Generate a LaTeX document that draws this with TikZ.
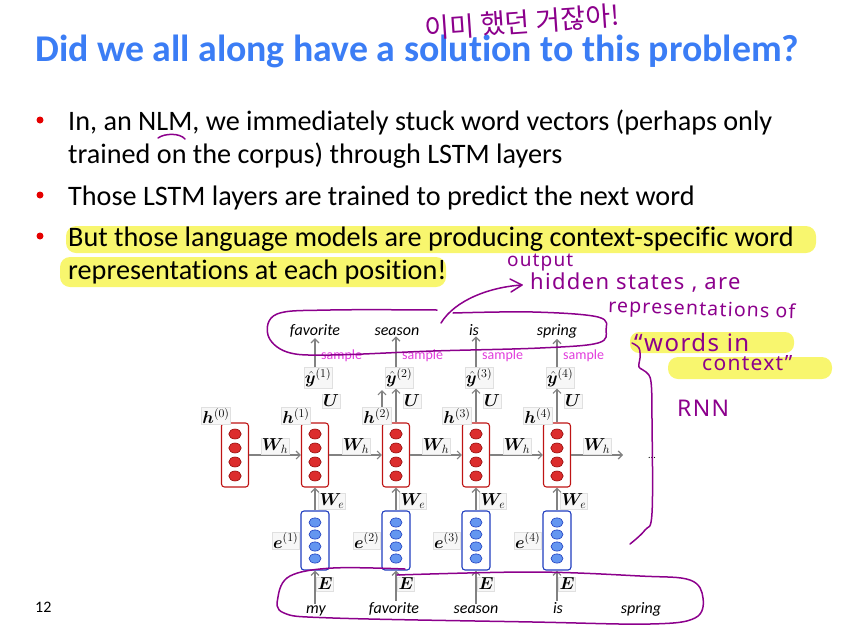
\documentclass[tikz,border=0pt]{standalone}
\usepackage{fontspec}
\setmainfont{Carlito}[Ligatures={NoCommon,NoRequired,NoContextual}]
\newfontfamily\kor{Noto Sans CJK KR}
\newfontfamily\hand{Noto Sans}[LetterSpace=6]
\usepackage{amsmath,bm}
\usetikzlibrary{arrows.meta,calc}
\definecolor{ttl}{RGB}{59,125,245}
\definecolor{pur}{RGB}{140,0,140}
\definecolor{hl}{RGB}{248,246,110}
\definecolor{mag}{RGB}{225,60,220}
\definecolor{rb}{RGB}{190,20,20}
\definecolor{rf}{RGB}{220,45,45}
\definecolor{bb}{RGB}{30,60,190}
\definecolor{bf}{RGB}{100,150,240}
\definecolor{ga}{RGB}{130,130,130}
\begin{document}
\begin{tikzpicture}[x=1pt,y=-1pt,
 rbox/.style={draw=rb, line width=1.1pt, rounded corners=3pt, minimum width=27pt, minimum height=64pt, inner sep=0pt},
 bbox/.style={draw=bb, line width=1.1pt, rounded corners=3pt, minimum width=28pt, minimum height=59pt, inner sep=0pt},
 lab/.style={draw=black!12, fill=black!3, inner sep=1pt, font=\fontsize{16.5}{18}\selectfont},
 garrow/.style={draw=ga, line width=1.2pt, -{Straight Barb[length=4pt,width=8pt]}},
 word/.style={font=\fontsize{16}{18}\selectfont\itshape, anchor=base, inner sep=1pt},
 smp/.style={font=\fontsize{14}{16}\selectfont, text=mag, anchor=base west, inner sep=0pt},
 pen/.style={draw=pur, line width=1.5pt, line cap=round, line join=round},
 htxt/.style={text=pur, inner sep=0pt, anchor=west, font=\hand\fontsize{21}{23}\selectfont},
 body/.style={anchor=base west, inner sep=0pt, font=\fontsize{28.2}{33}\selectfont},
 bdot/.style={fill=red!90!black, circle, inner sep=0pt, minimum size=7pt},
]
\useasboundingbox (0,0) rectangle (842,632);
% highlights
\fill[hl, rounded corners=10pt] (66,226) rectangle (816,253);
\fill[hl, rounded corners=10pt] (60,257) rectangle (446,287);
\fill[hl, rounded corners=9pt] (630,332) rectangle (794,353);
\fill[hl, rounded corners=10pt] (668,357) rectangle (832,379);
% title
\node[anchor=base west, inner sep=0pt, text=ttl, font=\bfseries\fontsize{37.8}{42}\selectfont] (title) at (35,61) {Did we all along have a solution to this problem?};
% bullets
\node[bdot] (d1) at (40,120) {};
\node[body] (l1) at (68,130) {In, an NLM, we immediately stuck word vectors (perhaps only};
\node[body] (l2) at (68,163) {trained on the corpus) through LSTM layers};
\node[bdot] (d2) at (40,195) {};
\node[body] (l3) at (68,205) {Those LSTM layers are trained to predict the next word};
\node[bdot] (d3) at (40,236) {};
\node[body] (l4) at (68,246) {But those language models are producing context-specific word};
\node[body] (l5) at (68,279) {representations at each position!};
\node[anchor=base west, inner sep=0pt, font=\fontsize{16}{18}\selectfont] (num) at (35,612) {12};
% hidden boxes
\foreach \i/\x in {0/235,1/315,2/396,3/476,4/557}{
  \node[rbox] (h\i) at (\x,455) {};
  \foreach \d in {-21,-7,7,21}
    \filldraw[fill=rf, draw=rb!80!black, line width=0.6pt] (\x,{455+\d}) ellipse [x radius=6.2pt, y radius=5pt];
  \node[lab] (hl\i) at ({\x-19},416) {$\bm{h}^{(\i)}$};
}
\foreach \i/\x in {1/315,2/396,3/476,4/557}{
  \node[bbox] (e\i) at (\x,540.5) {};
  \foreach \d in {-18,-6,6,18}
    \filldraw[fill=bf, draw=bb, line width=0.6pt] (\x,{540.5+\d}) ellipse [x radius=6pt, y radius=4.6pt];
  \node[lab, anchor=east] (el\i) at ([xshift=-1pt]e\i.west) {$\bm{e}^{(\i)}$};
  \draw[garrow] (e\i.north) -- (h\i.south);
  \node[lab] (we\i) at ({\x+17},501) {$\bm{W}_e$};
  \node[lab] (ul\i) at ({\x+16},401) {$\bm{U}$};
  \node[lab] (yh\i) at ({\x+3},378) {$\hat{\bm{y}}^{(\i)}$};
  \node[lab] (El\i) at ({\x+10},584) {$\bm{E}$};
  \node[smp] (s\i) at ({\x+6},359) {sample};
}
% recurrent arrows
\draw[garrow] (h0.east) -- (h1.west);
\draw[garrow] (h1.east) -- (h2.west);
\draw[garrow] (h2.east) -- (h3.west);
\draw[garrow] (h3.east) -- (h4.west);
\coordinate (hend) at (623,455);
\draw[garrow] (h4.east) -- (hend);
\node[lab] (wh1) at (275,446) {$\bm{W}_h$};
\node[lab] (wh2) at (356,446) {$\bm{W}_h$};
\node[lab] (wh3) at (436,446) {$\bm{W}_h$};
\node[lab] (wh4) at (517,446) {$\bm{W}_h$};
\node[lab] (wh5) at (597,446) {$\bm{W}_h$};
\node[font=\fontsize{10}{12}\selectfont, inner sep=0pt] (dots) at (652,458) {...};
% output arrows
\draw[garrow] (h2.north) -- (h2.north |- yh2.south);
\draw[garrow] (h3.north) -- (h3.north |- yh3.south);
\draw[garrow] (h4.north) -- (h4.north |- yh4.south);
\coordinate (x2a) at (382,390);
\draw[garrow] (hl2.north -| x2a) -- (x2a);
% top words
\node[word] (t1) at (315,335) {favorite};
\node[word] (t2) at (397,335) {season};
\node[word] (t3) at (474,335) {is};
\node[word] (t4) at (557,335) {spring};
\foreach \i in {1,2,3,4}
  \draw[garrow] (e\i.north |- yh\i.north) -- (e\i.north |- t\i.south);
% bottom words
\node[word] (b1) at (316,613) {my};
\node[word] (b2) at (394,613) {favorite};
\node[word] (b3) at (476,613) {season};
\node[word] (b4) at (558,613) {is};
\node[word] (b5) at (641,613) {spring};
\foreach \i in {1,2,3,4}
  \draw[garrow] (e\i.south |- b\i.north) -- (e\i.south);
% handwriting
\draw[pen] (158,138) .. controls (165,133) and (180,133) .. (185,139);
\node[text=pur, inner sep=0pt, rotate=4, font=\kor\fontsize{27}{29}\selectfont] (kor) at (522,22) {이미 했던 거잖아!};
\draw[pen] plot[smooth, tension=0.6] coordinates {(453,313) (533,312) (598,317) (606,330) (598,343) (540,348) (433,351) (330,355) (287,352) (268,335) (277,314) (330,310) (437,310)};
\draw[pen] (441,323) .. controls (455,300) and (490,287) .. (522,285);
\draw[pen] (510,279) -- (522,285) -- (511,292);
\draw[pen] plot[smooth, tension=0.6] coordinates {(405,569) (333,568) (290,576) (278,597) (284,613) (333,618) (533,622) (650,624) (695,618) (703,598) (690,580) (640,576) (533,572) (397,575)};
\draw[pen] plot[smooth, tension=0.6] coordinates {(632,343) (639,348) (640,358) (639,367) (646,372) (651,382) (652,420) (652,513) (645,530) (630,544)};
\node[htxt, font=\hand\fontsize{19}{21}\selectfont] (o1) at (507,263) {output};
\node[htxt, font=\hand\fontsize{22}{24}\selectfont] (o2) at (530,283) {hidden states , are};
\node[htxt, rotate=-2, font=\hand\fontsize{19.5}{21}\selectfont] (o3) at (608,307) {representations of};
\node[htxt, font=\hand\fontsize{24}{26}\selectfont] (o4) at (634,342) {“words in};
\node[htxt] (o5) at (702,363) {context”};
\node[htxt, font=\hand\fontsize{23}{25}\selectfont] (o6) at (677,408) {RNN};
\end{tikzpicture}
\end{document}
